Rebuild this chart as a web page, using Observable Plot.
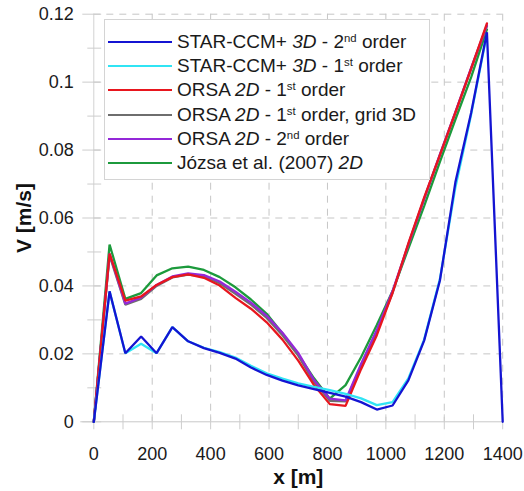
<!DOCTYPE html>
<html><head><meta charset="utf-8">
<script src="https://cdn.jsdelivr.net/npm/d3@7"></script>
<script src="https://cdn.jsdelivr.net/npm/@observablehq/plot@0.6"></script>
<style>
body{margin:0;background:#fff;font-family:"Liberation Sans",Arial,sans-serif;}
#wrap{position:relative;width:524px;height:491px;}
#legend{position:absolute;left:104px;top:19px;width:326px;height:161px;box-sizing:border-box;border:1px solid #d4d4d4;background:#fff;font-size:19px;color:#1a1a1a;padding-top:10px;}
.row{display:flex;align-items:center;height:24.2px;white-space:nowrap;}
.sw{width:64px;height:0;border-top:2.5px solid;margin-left:3px;margin-right:5px;}
.row sup{font-size:0.6em;vertical-align:0.55em;line-height:0;}
</style></head>
<body><div id="wrap"></div>
<script>
// x positions along the channel [m]
const xs = [0, 54, 108, 162, 215, 269, 323, 377, 431, 485, 538, 592, 646, 700, 754, 808, 862, 915, 969, 1023, 1077, 1131, 1185, 1238, 1292, 1346, 1400];

const starCCM2nd = [0, 0.0384, 0.0202, 0.0251, 0.0202, 0.0279, 0.0237, 0.0217, 0.0203, 0.0186, 0.0160, 0.0138, 0.0121, 0.0107, 0.0096, 0.0085, 0.0074, 0.0058, 0.0036, 0.0048, 0.0122, 0.0239, 0.0416, 0.0705, 0.0910, 0.1147, 0];
const starCCM1st = [0, 0.0384, 0.0202, 0.0230, 0.0202, 0.0279, 0.0237, 0.0218, 0.0205, 0.0189, 0.0165, 0.0143, 0.0127, 0.0113, 0.0103, 0.0093, 0.0082, 0.0069, 0.0049, 0.0058, 0.0128, 0.0242, 0.0420, 0.0690, 0.0905, 0.1142];
const orsa1st = [0, 0.0495, 0.0357, 0.0369, 0.0403, 0.0426, 0.0434, 0.0424, 0.0401, 0.0365, 0.0333, 0.0293, 0.0242, 0.0180, 0.0108, 0.0052, 0.0047, 0.0155, 0.0255, 0.0380, 0.0525, 0.0660, 0.0785, 0.0910, 0.1040, 0.1173];
const orsa1stGrid3D = [0, 0.0490, 0.0345, 0.0362, 0.0400, 0.0425, 0.0433, 0.0428, 0.0408, 0.0377, 0.0345, 0.0306, 0.0255, 0.0195, 0.0117, 0.0062, 0.0060, 0.0165, 0.0265, 0.0380, 0.0520, 0.0655, 0.0785, 0.0910, 0.1040, 0.1165];
const orsa2nd = [0, 0.0495, 0.0348, 0.0366, 0.0403, 0.0428, 0.0437, 0.0432, 0.0413, 0.0383, 0.0351, 0.0312, 0.0262, 0.0203, 0.0123, 0.0068, 0.0063, 0.0170, 0.0270, 0.0385, 0.0523, 0.0657, 0.0787, 0.0912, 0.1042, 0.1168];
const jozsa2007 = [0, 0.0522, 0.0362, 0.0379, 0.0431, 0.0452, 0.0457, 0.0447, 0.0426, 0.0396, 0.0360, 0.0318, 0.0260, 0.0198, 0.0128, 0.0068, 0.0108, 0.0190, 0.0285, 0.0385, 0.0510, 0.0635, 0.0765, 0.0890, 0.1015, 0.1155];

const seriesKeys = ["s2", "s1", "o1", "og", "o2", "jz"];
const seriesValues = [starCCM2nd, starCCM1st, orsa1st, orsa1stGrid3D, orsa2nd, jozsa2007];
const seriesColors = ["#1414d2", "#30e4f4", "#e8161e", "#6e6e6e", "#9428d8", "#1c9a3c"];
const legendLabels = [
  "STAR-CCM+ <i>3D</i> - 2<sup>nd</sup> order",
  "STAR-CCM+ <i>3D</i> - 1<sup>st</sup> order",
  "ORSA <i>2D</i> - 1<sup>st</sup> order",
  "ORSA <i>2D</i> - 1<sup>st</sup> order, grid 3D",
  "ORSA <i>2D</i> - 2<sup>nd</sup> order",
  "Józsa et al. (2007) <i>2D</i>"
];
const drawOrder = [5, 3, 4, 2, 1, 0];

const xTicks = [0, 200, 400, 600, 800, 1000, 1200, 1400];
const xTickLabels = ["0", "200", "400", "600", "800", "1000", "1200", "1400"];
const xMinor = [100, 300, 500, 700, 900, 1100, 1300];
const yTicks = [0, 0.02, 0.04, 0.06, 0.08, 0.1, 0.12];
const yTickLabels = ["0", "0.02", "0.04", "0.06", "0.08", "0.1", "0.12"];
const yMinor = [0.01, 0.03, 0.05, 0.07, 0.09, 0.11];
const xLabel = "x [m]";
const yLabel = "V [m/s]";

const rows = [];
seriesValues.forEach((vals, k) => vals.forEach((v, i) => rows.push({x: xs[i], y: v, s: seriesKeys[k], k})));

const gridCol = "#c6c6c6";
const lineMarks = drawOrder.map(k => Plot.line(rows.filter(r => r.k === k), {x: "x", y: "y", stroke: seriesColors[k], strokeWidth: 2.3, strokeLinejoin: "miter"}));

const chart = Plot.plot({
  width: 524, height: 491,
  marginLeft: 93.3, marginRight: 21.8, marginTop: 13.7, marginBottom: 69.7,
  style: {fontFamily: "'Liberation Sans', Arial, sans-serif", background: "#fff", color: "#1a1a1a"},
  x: {domain: [0, 1400], label: null},
  y: {domain: [0, 0.12], label: null},
  marks: [
    Plot.gridX({ticks: xTicks.slice(1), stroke: gridCol, strokeOpacity: 1, strokeDasharray: "7,6"}),
    Plot.gridY({ticks: yTicks.slice(1), stroke: gridCol, strokeOpacity: 1, strokeDasharray: "7,6"}),
    Plot.ruleX([0], {stroke: "#d2d2d2"}),
    Plot.ruleY([0], {stroke: "#c8c8c8", insetLeft: -13}),
    Plot.tickX(xTicks.concat(xMinor), {x: d => d, stroke: "#cdcdcd", insetTop: 400.6, insetBottom: -8}),
    Plot.tickY(yTicks, {y: d => d, stroke: "#cdcdcd", insetLeft: -11, insetRight: 401}),
    Plot.tickY(yMinor, {y: d => d, stroke: "#cdcdcd", insetLeft: -6, insetRight: 401}),
    Plot.axisX({ticks: xTicks, tickFormat: (d, i) => xTickLabels[i], tickSize: 0, tickPadding: 25, fontSize: 18, label: null, fill: "#1a1a1a"}),
    Plot.axisY({ticks: yTicks, tickFormat: (d, i) => yTickLabels[i], tickSize: 0, tickPadding: 20, fontSize: 18, label: null, fill: "#1a1a1a"}),
    ...lineMarks,
    Plot.text([xLabel], {text: d => d, frameAnchor: "bottom", lineAnchor: "middle", dy: 55, fontSize: 21, fontWeight: "bold", fill: "#111"}),
    Plot.text([yLabel], {text: d => d, frameAnchor: "left", textAnchor: "middle", lineAnchor: "middle", dx: -70, rotate: -90, fontSize: 21, fontWeight: "bold", fill: "#111"})
  ]
});
const wrap = document.getElementById("wrap");
wrap.appendChild(chart);

const legend = document.createElement("div");
legend.id = "legend";
legendLabels.forEach((lab, k) => {
  const row = document.createElement("div");
  row.className = "row";
  const sw = document.createElement("span");
  sw.className = "sw";
  sw.style.borderTopColor = seriesColors[k];
  const t = document.createElement("span");
  t.innerHTML = lab;
  row.appendChild(sw); row.appendChild(t);
  legend.appendChild(row);
});
wrap.appendChild(legend);
</script>
</body></html>
